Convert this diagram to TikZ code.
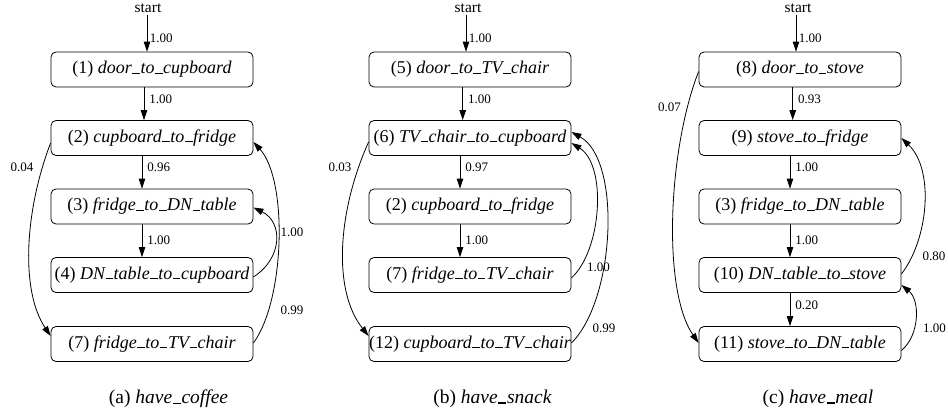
\documentclass[tikz,border=0pt]{standalone}
\usepackage{fontspec}
\setmainfont{Liberation Serif}
\usetikzlibrary{arrows.meta}
\newcommand\uscore{\leavevmode\kern.03em\vbox{\hrule width.42em height 1.2pt}\kern.03em}
\tikzset{
  box/.style={draw, rounded corners=5pt, minimum width=202pt, minimum height=35pt, inner sep=0pt, line width=0.8pt, font=\fontsize{18}{20}\selectfont},
  arr/.style={-{Triangle[length=10pt,width=6.5pt]}, line width=0.8pt},
  lab/.style={font=\fontsize{13}{15}\selectfont, inner sep=0pt},
  startlab/.style={font=\fontsize{15.5}{17}\selectfont, inner sep=2pt},
  captext/.style={font=\fontsize{19.5}{21}\selectfont, inner sep=0pt},
}
\begin{document}
\begin{tikzpicture}[x=1pt,y=-1pt]
\useasboundingbox (0,0) rectangle (948,415);
% ---------------- (a) ----------------
\node[startlab] (sa) at (148,8) {start};
\node[box] (a1) at (152,69.5) {(1) \textit{door\uscore to\uscore cupboard}};
\node[box] (a2) at (152,138) {(2) \textit{cupboard\uscore to\uscore fridge}};
\node[box] (a3) at (152,206.5) {(3) \textit{fridge\uscore to\uscore DN\uscore table}};
\node[box] (a4) at (152,275) {(4) \textit{DN\uscore table\uscore to\uscore cupboard}};
\node[box] (a7) at (152,344) {(7) \textit{fridge\uscore to\uscore TV\uscore chair}};
\draw[arr] ([xshift=-1pt]sa.south) -- ([xshift=-1pt]sa.south |- a1.north) node[lab, pos=.65, right=2.5pt] {1.00};
\draw[arr] ([xshift=-8pt]a1.south) -- ([xshift=-8pt]a2.north) node[lab, pos=.35, right=5pt] {1.00};
\draw[arr] ([xshift=-10pt]a2.south) -- ([xshift=-10pt]a3.north) node[lab, pos=.35, right=5pt] {0.96};
\draw[arr] ([xshift=-10pt]a3.south) -- ([xshift=-10pt]a4.north) node[lab, pos=.5, right=5pt] {1.00};
\draw[arr] ([yshift=-5pt]a2.west) .. controls (25,210) and (20,290) .. ([yshift=8pt]a7.west);
\node[lab] (la1) at (22,167) {0.04};
\draw[arr] ([yshift=-2pt]a4.east) .. controls (283,258) and (283,222) .. ([yshift=-1pt]a3.east);
\node[lab] (la2) at (292,232) {1.00};
\draw[arr] ([yshift=1pt]a7.east) .. controls (285,300) and (288,180) .. ([yshift=-4pt]a2.east);
\node[lab] (la3) at (292,310) {0.99};
\node[captext] (capa) at (168.5,399) {(a) \textit{have\uscore coffee}};
% ---------------- (b) ----------------
\node[startlab] (sb) at (468,8) {start};
\node[box] (b5) at (470,69.5) {(5) \textit{door\uscore to\uscore TV\uscore chair}};
\node[box] (b6) at (470,138) {(6) \textit{TV\uscore chair\uscore to\uscore cupboard}};
\node[box] (b2) at (470,206.5) {(2) \textit{cupboard\uscore to\uscore fridge}};
\node[box] (b7) at (470,275) {(7) \textit{fridge\uscore to\uscore TV\uscore chair}};
\node[box] (b12) at (470,344) {(12) \textit{cupboard\uscore to\uscore TV\uscore chair}};
\draw[arr] ([xshift=-2pt]sb.south) -- ([xshift=-2pt]sb.south |- b5.north) node[lab, pos=.65, right=2.5pt] {1.00};
\draw[arr] ([xshift=-7.3pt]b5.south) -- ([xshift=-7.3pt]b6.north) node[lab, pos=.35, right=5pt] {1.00};
\draw[arr] ([xshift=-10pt]b6.south) -- ([xshift=-10pt]b2.north) node[lab, pos=.35, right=5pt] {0.97};
\draw[arr] ([xshift=-10pt]b2.south) -- ([xshift=-10pt]b7.north) node[lab, pos=.5, right=5pt] {1.00};
\draw[arr] ([yshift=-4pt]b6.west) .. controls (338,210) and (332,290) .. ([yshift=8pt]b12.west);
\node[lab] (lb1) at (340,167) {0.03};
\draw[arr] ([yshift=-3pt]b7.east) .. controls (602,250) and (607,165) .. ([yshift=-5pt]b6.east);
\node[lab] (lb2) at (598.5,267) {1.00};
\draw[arr] ([yshift=1pt]b12.east) .. controls (615,300) and (622,160) .. ([yshift=6pt]b6.east);
\node[lab] (lb3) at (604,328) {0.99};
\node[captext] (capb) at (492.5,399) {(b) \textit{have\uscore snack}};
% ---------------- (c) ----------------
\node[startlab] (sc) at (798,8) {start};
\node[box] (c8) at (800,69.5) {(8) \textit{door\uscore to\uscore stove}};
\node[box] (c9) at (800,138) {(9) \textit{stove\uscore to\uscore fridge}};
\node[box] (c3) at (800,206.5) {(3) \textit{fridge\uscore to\uscore DN\uscore table}};
\node[box] (c10) at (800,275) {(10) \textit{DN\uscore table\uscore to\uscore stove}};
\node[box] (c11) at (800,344) {(11) \textit{stove\uscore to\uscore DN\uscore table}};
\draw[arr] ([xshift=-2pt]sc.south) -- ([xshift=-2pt]sc.south |- c8.north) node[lab, pos=.65, right=2.5pt] {1.00};
\draw[arr] ([xshift=-7.3pt]c8.south) -- ([xshift=-7.3pt]c9.north) node[lab, pos=.35, right=5pt] {0.93};
\draw[arr] ([xshift=-10pt]c9.south) -- ([xshift=-10pt]c3.north) node[lab, pos=.35, right=5pt] {1.00};
\draw[arr] ([xshift=-10pt]c3.south) -- ([xshift=-10pt]c10.north) node[lab, pos=.5, right=5pt] {1.00};
\draw[arr] ([xshift=-10pt]c10.south) -- ([xshift=-10pt]c11.north) node[lab, pos=.38, right=5pt] {0.20};
\draw[arr] ([yshift=-2pt]c8.west) .. controls (668,150) and (662,290) .. ([yshift=1pt]c11.west);
\node[lab] (lc1) at (669.5,107) {0.07};
\draw[arr] ([yshift=1pt]c10.east) .. controls (928,240) and (935,170) .. (c9.east);
\node[lab] (lc2) at (934,256) {0.80};
\draw[arr] ([yshift=-6.5pt]c11.east) .. controls (920,335) and (920,300) .. ([yshift=-10pt]c10.east);
\node[lab] (lc3) at (934.5,328) {1.00};
\node[captext] (capc) at (818,399) {(c) \textit{have\uscore meal}};
\end{tikzpicture}
\end{document}
